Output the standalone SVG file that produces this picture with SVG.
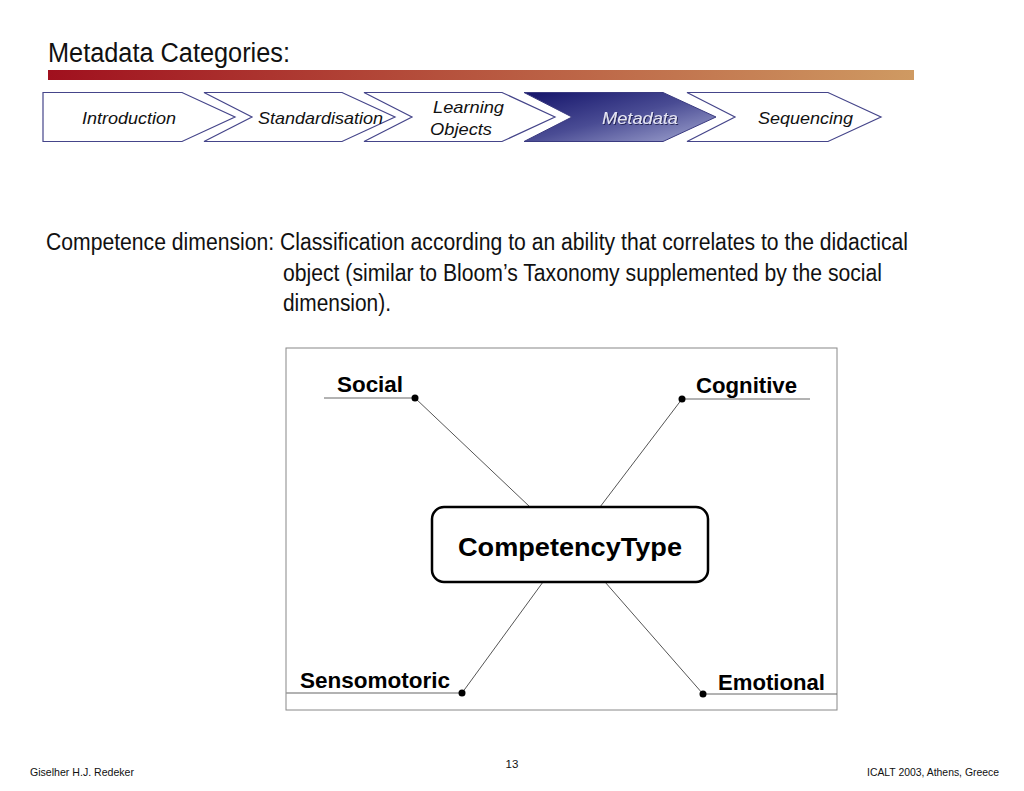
<svg xmlns="http://www.w3.org/2000/svg" width="1024" height="791" viewBox="0 0 1024 791">
<defs>
<linearGradient id="bar" x1="0" y1="0" x2="1" y2="0">
<stop offset="0" stop-color="#a0101e"/>
<stop offset="0.45" stop-color="#b5503c"/>
<stop offset="1" stop-color="#cf9a62"/>
</linearGradient>
<linearGradient id="meta" x1="0" y1="0" x2="1" y2="1">
<stop offset="0" stop-color="#14146a"/>
<stop offset="0.5" stop-color="#4a4c94"/>
<stop offset="1" stop-color="#a4a8d2"/>
</linearGradient>
<filter id="sh" x="-10%" y="-10%" width="130%" height="140%">
<feDropShadow dx="1" dy="1" stdDeviation="0.5" flood-color="#1a1a50" flood-opacity="0.9"/>
</filter>
</defs>
<style>
.chev{fill:#ffffff;stroke:#45458a;stroke-width:1.2}
.ct{font-family:"Liberation Sans",Arial,sans-serif;font-style:italic;font-size:17px;fill:#111}
.body{font-family:"Liberation Sans",Arial,sans-serif;font-size:23.5px;fill:#111}
.lab{font-family:"Liberation Sans",Arial,sans-serif;font-weight:bold;font-size:22px;fill:#000}
.conn{stroke:#555;stroke-width:1;fill:none}
.ul{stroke:#666;stroke-width:1;fill:none}
.dot{fill:#000}
.foot{font-family:"Liberation Sans",Arial,sans-serif;font-size:11.5px;fill:#111}
</style>
<rect width="1024" height="791" fill="#ffffff"/>
<g id="title">
<text x="48" y="62" font-family="Liberation Sans, Arial, sans-serif" font-size="27" fill="#111" textLength="242" lengthAdjust="spacingAndGlyphs">Metadata Categories:</text>
<rect x="48" y="70" width="866" height="10" fill="url(#bar)"/>
</g>
<g id="nav">
<g id="nav-introduction">
<polygon class="chev" points="43,92.5 182,92.5 235,117 182,141.5 43,141.5"/>
<text class="ct" x="82" y="124" textLength="94" lengthAdjust="spacingAndGlyphs">Introduction</text>
</g>
<g id="nav-standardisation">
<polygon class="chev" points="204,92.5 342,92.5 395,117 342,141.5 204,141.5 252,117"/>
<text class="ct" x="258" y="124" textLength="125" lengthAdjust="spacingAndGlyphs">Standardisation</text>
</g>
<g id="nav-learning">
<polygon class="chev" points="364,92.5 502,92.5 555,117 502,141.5 364,141.5 412,117"/>
<text class="ct" x="433" y="113" textLength="71" lengthAdjust="spacingAndGlyphs">Learning</text>
<text class="ct" x="430" y="135" textLength="62" lengthAdjust="spacingAndGlyphs">Objects</text>
</g>
<g id="nav-metadata">
<polygon points="524,92.5 663,92.5 716,117 663,141.5 524,141.5 572,117" fill="url(#meta)" stroke="#3a3a80" stroke-width="1"/>
<text class="ct" x="602" y="124" textLength="76" lengthAdjust="spacingAndGlyphs" style="fill:#e4e4f4" filter="url(#sh)">Metadata</text>
</g>
<g id="nav-sequencing">
<polygon class="chev" points="687,92.5 828,92.5 881,117 828,141.5 687,141.5 735,117"/>
<text class="ct" x="758" y="124" textLength="95" lengthAdjust="spacingAndGlyphs">Sequencing</text>
</g>
</g>
<g id="description">
<text class="body" x="46" y="250" textLength="862" lengthAdjust="spacingAndGlyphs">Competence dimension: Classification according to an ability that correlates to the didactical</text>
<text class="body" x="283" y="281" textLength="599" lengthAdjust="spacingAndGlyphs">object (similar to Bloom’s Taxonomy supplemented by the social</text>
<text class="body" x="283" y="311" textLength="108" lengthAdjust="spacingAndGlyphs">dimension).</text>
</g>
<g id="frame">
<rect x="286" y="348" width="551" height="362" fill="none" stroke="#888" stroke-width="1"/>
</g>
<g id="connectors">
<line class="conn" x1="415" y1="398" x2="530" y2="507"/>
<line class="conn" x1="682" y1="399" x2="600" y2="507"/>
<line class="conn" x1="462" y1="693" x2="543" y2="582"/>
<line class="conn" x1="703" y1="694" x2="605" y2="582"/>
</g>
<g id="competencytype">
<rect x="432" y="507" width="276" height="75" rx="12" ry="12" fill="#fff" stroke="#000" stroke-width="2.5"/>
<text x="458" y="556" font-family="Liberation Sans, Arial, sans-serif" font-weight="bold" font-size="26" fill="#000" textLength="224" lengthAdjust="spacingAndGlyphs">CompetencyType</text>
</g>
<g id="social">
<line class="ul" x1="324" y1="398" x2="415" y2="398"/>
<circle class="dot" cx="415" cy="398" r="3.5"/>
<text class="lab" x="337" y="392" textLength="66" lengthAdjust="spacingAndGlyphs">Social</text>
</g>
<g id="cognitive">
<line class="ul" x1="682" y1="399" x2="810" y2="399"/>
<circle class="dot" cx="682" cy="399" r="3.5"/>
<text class="lab" x="696" y="393" textLength="101" lengthAdjust="spacingAndGlyphs">Cognitive</text>
</g>
<g id="sensomotoric">
<line class="ul" x1="286" y1="693" x2="462" y2="693" style="stroke:#999;stroke-width:1.5"/>
<circle class="dot" cx="462" cy="693" r="3.5"/>
<text class="lab" x="300" y="688" textLength="150" lengthAdjust="spacingAndGlyphs">Sensomotoric</text>
</g>
<g id="emotional">
<line class="ul" x1="703" y1="694" x2="837" y2="694"/>
<circle class="dot" cx="703" cy="694" r="3.5"/>
<text class="lab" x="718" y="690" textLength="107" lengthAdjust="spacingAndGlyphs">Emotional</text>
</g>
<g id="footer">
<text class="foot" x="30" y="776" textLength="104" lengthAdjust="spacingAndGlyphs">Giselher H.J. Redeker</text>
<text class="foot" x="512" y="768" text-anchor="middle">13</text>
<text class="foot" x="999" y="776" text-anchor="end" textLength="132" lengthAdjust="spacingAndGlyphs">ICALT 2003, Athens, Greece</text>
</g>
</svg>
